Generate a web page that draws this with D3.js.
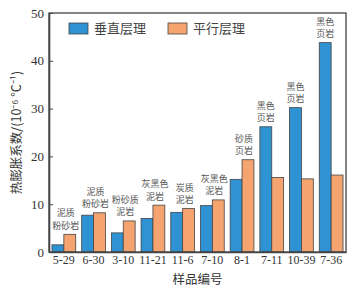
<!DOCTYPE html>
<html>
<head>
<meta charset="utf-8">
<script src="https://cdn.jsdelivr.net/npm/d3@7"></script>
<style>
  body { margin: 0; background: #fff; }
  svg text { font-family: "Liberation Serif", "DejaVu Serif", serif; }
  .cjk { font-family: "Noto Sans CJK SC", sans-serif; }
</style>
</head>
<body>
<div id="chart"></div>
<script>
// sample ids and the two series
const samples = ['5-29', '6-30', '3-10', '11-21', '11-6', '7-10', '8-1', '7-11', '10-39', '7-36'];
const vertical = [1.5, 7.7, 4.0, 7.0, 8.3, 9.7, 15.2, 26.2, 30.2, 43.8];
const parallel = [3.7, 8.2, 6.5, 9.8, 9.1, 10.9, 19.3, 15.6, 15.3, 16.1];
const rockTop = ['泥质', '泥质', '粉砂质', '灰黑色', '炭质', '灰黑色', '砂质', '黑色', '黑色', '黑色'];
const rockBottom = ['粉砂岩', '粉砂岩', '泥岩', '泥岩', '泥岩', '泥岩', '页岩', '页岩', '页岩', '页岩'];
const seriesNames = ['垂直层理', '平行层理'];
const yTicks = [0, 10, 20, 30, 40, 50];

const colors = ['#2f93d3', '#f5a46f'];

function drawChart() {
  const width = 357, height = 290;
  const margin = { top: 13, right: 11, bottom: 38, left: 49 };
  const w = width - margin.left - margin.right,
    h = height - margin.top - margin.bottom;

  const svg = d3.select('#chart')
    .append('svg')
    .attr('width', width)
    .attr('height', height);

  const g = svg.append('g')
    .attr('transform', `translate(${margin.left},${margin.top})`);

  // scales
  const x0 = d3.scaleBand()
    .domain(samples)
    .range([0, w])
    .paddingInner(0.2)
    .paddingOuter(0.1);

  const x1 = d3.scaleBand()
    .domain([0, 1])
    .range([0, x0.bandwidth()]);

  const y = d3.scaleLinear()
    .domain([0, 50])
    .range([h, 0]);

  // bars
  const groups = g.selectAll('.grp')
    .data(samples)
    .enter()
    .append('g')
    .attr('transform', d => `translate(${x0(d)},0)`);

  groups.selectAll('rect')
    .data((d, i) => [vertical[i], parallel[i]])
    .enter()
    .append('rect')
    .attr('x', (d, j) => x1(j))
    .attr('y', d => y(d))
    .attr('width', x1.bandwidth())
    .attr('height', d => h - y(d))
    .attr('fill', (d, j) => colors[j])
    .attr('stroke', '#444')
    .attr('stroke-width', 0.8);

  // rock type labels above the bars, two lines each
  groups.each(function (d, i) {
    const top = Math.max(vertical[i], parallel[i]);
    let cx = x0.bandwidth() / 2 + 2;
    if (vertical[i] > parallel[i]) cx = x1(0) + x1.bandwidth() / 2;
    const grp = d3.select(this);
    [rockTop[i], rockBottom[i]].forEach((s, k) => {
      grp.append('text')
        .attr('class', 'cjk')
        .attr('x', cx)
        .attr('y', y(top) - 18 + k * 12.5)
        .attr('text-anchor', 'middle')
        .attr('font-size', 9)
        .attr('fill', '#555')
        .text(s);
    });
  });

  // frame
  g.append('rect')
    .attr('width', w)
    .attr('height', h)
    .attr('fill', 'none')
    .attr('stroke', '#444')
    .attr('stroke-width', 1.3);

  // y axis
  const yAxis = g.append('g')
    .call(d3.axisLeft(y).tickValues(yTicks).tickSizeInner(-4).tickSizeOuter(0).tickPadding(5));
  yAxis.select('.domain').attr('stroke', '#444').attr('stroke-width', 1.6);
  yAxis.selectAll('.tick line').attr('stroke', '#444');
  yAxis.selectAll('text').attr('font-size', 13).attr('fill', '#333');

  // x axis
  const xAxis = g.append('g')
    .attr('transform', `translate(0,${h})`)
    .call(d3.axisBottom(x0).tickSize(0).tickPadding(3));
  xAxis.select('.domain').attr('stroke', '#444').attr('stroke-width', 1.3);
  xAxis.selectAll('text').attr('font-size', 12).attr('fill', '#333');

  // axis titles
  svg.append('text')
    .attr('class', 'cjk')
    .attr('x', margin.left + w / 2)
    .attr('y', 284)
    .attr('text-anchor', 'middle')
    .attr('font-size', 12.5)
    .attr('fill', '#333')
    .text('样品编号');

  svg.append('text')
    .attr('class', 'cjk')
    .attr('transform', `translate(21,${margin.top + h / 2}) rotate(-90)`)
    .attr('text-anchor', 'middle')
    .attr('font-size', 12.5)
    .attr('fill', '#333')
    .text('热膨胀系数/(10⁻⁶ ℃⁻¹)');

  // legend
  const legend = g.selectAll('.leg')
    .data(seriesNames)
    .enter()
    .append('g')
    .attr('transform', (d, i) => `translate(${20 + i * 99},10)`);

  legend.append('rect')
    .attr('width', 19)
    .attr('height', 11)
    .attr('fill', (d, i) => colors[i])
    .attr('stroke', '#444')
    .attr('stroke-width', 0.8);

  legend.append('text')
    .attr('class', 'cjk')
    .attr('x', 25)
    .attr('y', 10)
    .attr('font-size', 13)
    .attr('fill', '#444')
    .text(d => d);
}

document.addEventListener('DOMContentLoaded', drawChart);
</script>
</body>
</html>
